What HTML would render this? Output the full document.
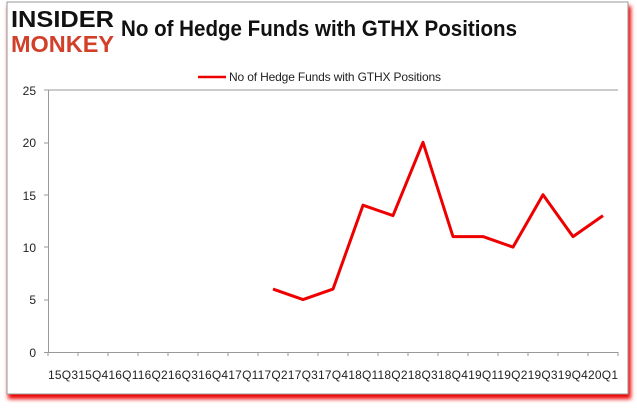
<!DOCTYPE html>
<html><head><style>
body{margin:0;width:637px;height:408px;background:#fff;overflow:hidden;font-family:"Liberation Sans",sans-serif}
</style></head><body>
<svg width="637" height="408" xmlns="http://www.w3.org/2000/svg">
<defs><filter id="f" x="-5%" y="-5%" width="110%" height="115%"><feGaussianBlur stdDeviation="2"/></filter></defs>
<rect x="8" y="6" width="623" height="393" fill="#e00" filter="url(#f)"/>
<rect x="7" y="2" width="621" height="392" fill="#fff" stroke="#999" stroke-width="1"/>
<text x="11" y="27" font-size="23" font-weight="bold" fill="#111" textLength="103" lengthAdjust="spacingAndGlyphs">INSIDER</text>
<text x="11" y="52" font-size="23" font-weight="bold" fill="#d2402a" textLength="103" lengthAdjust="spacingAndGlyphs">MONKEY</text>
<text x="121" y="36" font-size="22" font-weight="bold" fill="#111" textLength="396" lengthAdjust="spacingAndGlyphs">No of Hedge Funds with GTHX Positions</text>
<line x1="198" y1="77" x2="226" y2="77" stroke="#e00" stroke-width="2.5"/>
<text x="229" y="81" font-size="12" fill="#222" textLength="212">No of Hedge Funds with GTHX Positions</text>
<line x1="48" y1="90" x2="618" y2="90" stroke="#999"/>
<line x1="48.5" y1="90" x2="48.5" y2="352" stroke="#999"/>
<line x1="44" y1="352.5" x2="618" y2="352.5" stroke="#999"/>
<g font-size="12" fill="#222" text-anchor="end">
<text x="36" y="95">25</text><text x="36" y="147">20</text><text x="36" y="200">15</text><text x="36" y="252">10</text><text x="36" y="304">5</text><text x="36" y="357">0</text>
</g>
<g stroke="#999">
<line x1="44" y1="143" x2="48" y2="143"/><line x1="44" y1="195" x2="48" y2="195"/><line x1="44" y1="247" x2="48" y2="247"/><line x1="44" y1="300" x2="48" y2="300"/><line x1="44" y1="90" x2="48" y2="90"/>
<path d="M78 352v4M108 352v4M138 352v4M168 352v4M198 352v4M228 352v4M258 352v4M288 352v4M318 352v4M348 352v4M378 352v4M408 352v4M438 352v4M468 352v4M498 352v4M528 352v4M558 352v4M588 352v4M618 352v4M48 352v4"/>
</g>
<text x="333" y="379" font-size="12" fill="#222" text-anchor="middle" textLength="570">15Q315Q416Q116Q216Q316Q417Q117Q217Q317Q418Q118Q218Q318Q419Q119Q219Q319Q420Q1</text>
<polyline fill="none" stroke="#e00" stroke-width="3" stroke-linejoin="round" points="273,289.1 303,299.6 333,289.1 363,205.2 393,215.6 423,142.3 453,236.6 483,236.6 513,247.1 543,194.7 573,236.6 603,215.6"/>
</svg>
</body></html>
